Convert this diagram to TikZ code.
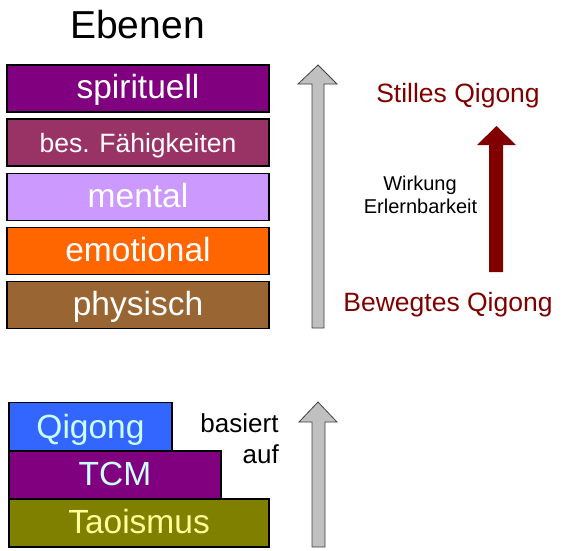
\documentclass[tikz,border=0pt]{standalone}
\usepackage{fontspec}
\setmainfont{Liberation Sans}
\definecolor{cPurple}{HTML}{800080}
\definecolor{cPlum}{HTML}{993366}
\definecolor{cLav}{HTML}{CC99FF}
\definecolor{cOrange}{HTML}{FF6600}
\definecolor{cBrown}{HTML}{996633}
\definecolor{cBlue}{HTML}{3366FF}
\definecolor{cOlive}{HTML}{808000}
\definecolor{cCyanT}{HTML}{CCFFFF}
\definecolor{cYellowT}{HTML}{FFFF99}
\definecolor{cDarkRed}{HTML}{800000}
\definecolor{cGray}{HTML}{C0C0C0}
\tikzset{
  levelbox/.style={draw=black, line width=1.6pt, inner sep=0pt, minimum width=262pt,
    minimum height=47pt, text height=24pt, text depth=4pt, text=white,
    font=\fontsize{33.5}{36}\selectfont},
  basebox/.style={draw=black, line width=1.6pt, inner sep=0pt, minimum height=48pt,
    text height=24pt, text depth=4pt, font=\fontsize{33.5}{36}\selectfont},
  grayarrow/.style={fill=cGray, draw=black!75, line width=0.8pt, line join=miter},
  redtext/.style={text=cDarkRed, font=\fontsize{26.5}{30}\selectfont, anchor=base, inner sep=0pt},
  plaintext/.style={text=black, anchor=base, inner sep=0pt},
}
\begin{document}
\begin{tikzpicture}[x=1pt,y=-1pt]
\useasboundingbox (0,0) rectangle (563,550);
% title
\node[plaintext, font=\fontsize{39}{42}\selectfont] (title) at (137.5,38) {Ebenen};
% level boxes
\node[levelbox, fill=cPurple] (spirit) at (138,88.5) {spirituell};
\node[levelbox, fill=cPlum, font=\fontsize{26.5}{30}\selectfont, text height=19pt, text depth=0pt] (faeh) at (138,142.5) {bes. Fähigkeiten};
\node[levelbox, fill=cLav] (mental) at (138,197) {mental};
\node[levelbox, fill=cOrange] (emot) at (138,251) {emotional};
\node[levelbox, fill=cBrown] (phys) at (138,305) {physisch};
% big gray arrow
\draw[grayarrow] (318,65) -- (337,84) -- (324,84) -- (324,328) -- (312,328) -- (312,84) -- (298,84) -- cycle;
% dark red arrow
\fill[cDarkRed] (496.5,126) -- (516,145) -- (503,145) -- (503,272) -- (489,272) -- (489,145) -- (477,145) -- cycle;
% qigong texts
\node[redtext] (stilles) at (458,102) {Stilles Qigong};
\node[redtext] (bewegt) at (448,311) {Bewegtes Qigong};
\node[plaintext, font=\fontsize{20}{24}\selectfont] (wirk) at (420,190) {Wirkung};
\node[plaintext, font=\fontsize{20}{24}\selectfont] (erl) at (420.5,213) {Erlernbarkeit};
% base boxes
\node[basebox, fill=cBlue, text=cCyanT, minimum width=163pt, text height=24pt, text depth=1pt] (qig) at (90.5,426.5) {Qigong};
\node[basebox, fill=cPurple, text=cCyanT, minimum width=212pt] (tcm) at (115,475) {TCM};
\node[basebox, fill=cOlive, text=cYellowT, minimum width=260pt] (tao) at (139,523) {Taoismus};
% basiert auf
\node[plaintext, font=\fontsize{26}{30}\selectfont] (basiert) at (239.5,432) {basiert};
\node[plaintext, anchor=base east, font=\fontsize{26}{30}\selectfont] (auf) at (279,463) {auf};
% lower gray arrow
\draw[grayarrow] (318,402) -- (337,422) -- (325,422) -- (325,547) -- (312,547) -- (312,422) -- (299,422) -- cycle;
\end{tikzpicture}
\end{document}
